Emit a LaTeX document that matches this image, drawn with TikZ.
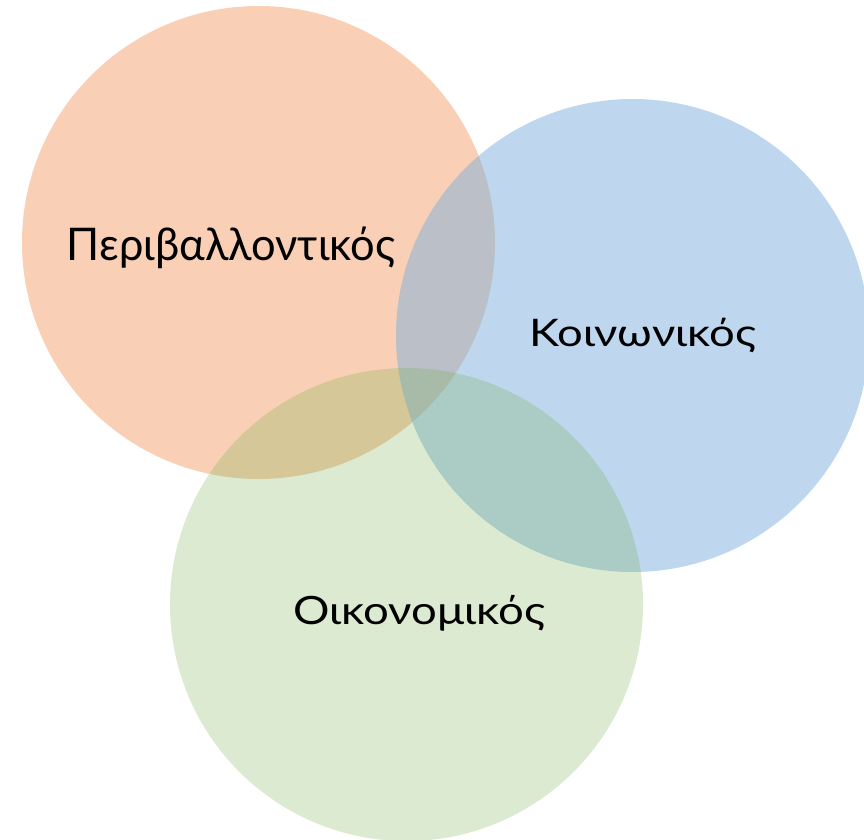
\documentclass[tikz,border=0pt]{standalone}
\usepackage{fontspec}
\setmainfont{Lato}
\usepackage{graphicx}
\definecolor{orangeC}{RGB}{237,125,49}
\definecolor{blueC}{RGB}{125,175,221}
\definecolor{greenC}{RGB}{112,173,71}
\begin{document}
\begin{tikzpicture}[x=1pt,y=-1pt,
  venn/.style={circle,draw=none,minimum size=473pt,inner sep=0pt},
  lbl/.style={anchor=base,inner sep=0pt,text=black}]
\useasboundingbox (0,0) rectangle (864,839);
\clip (0,0) rectangle (864,839);
\node[venn,fill=orangeC,fill opacity=0.36] (env) at (258.5,242.5) {};
\node[venn,fill=blueC,fill opacity=0.5] (soc) at (632.5,335.5) {};
\node[venn,fill=greenC,fill opacity=0.25] (eco) at (406.5,604.5) {};
\node[lbl] (tenv) at (231,260) {\resizebox{328pt}{\height}{\fontsize{45}{52}\selectfont Περιβαλλοντικός}};
\node[lbl] (tsoc) at (642.5,346) {\resizebox{227pt}{\height}{\fontsize{38}{44}\selectfont Κοινωνικός}};
\node[lbl] (teco) at (419,624.5) {\resizebox{252pt}{\height}{\fontsize{39}{45}\selectfont Οικονομικός}};
\end{tikzpicture}
\end{document}
